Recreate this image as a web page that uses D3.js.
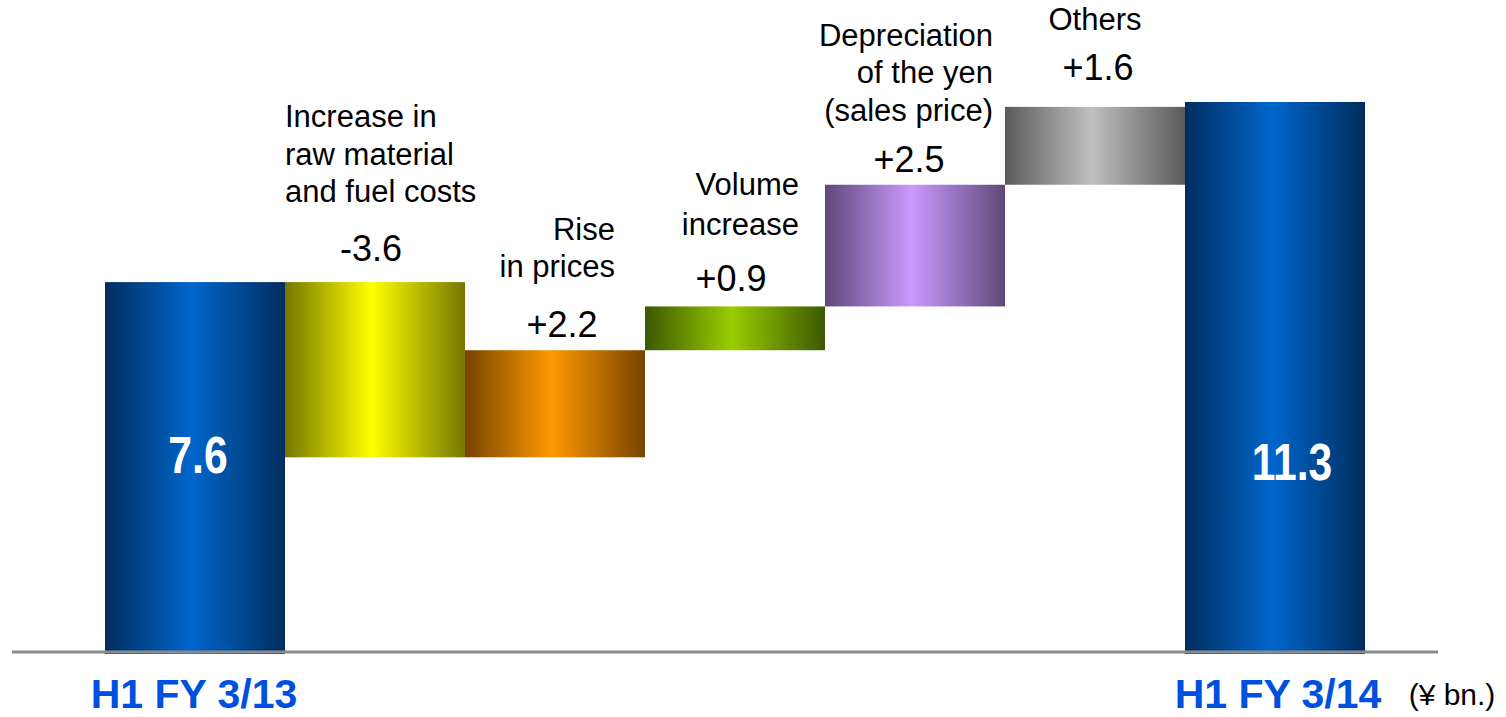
<!DOCTYPE html>
<html>
<head>
<meta charset="utf-8">
<script src="https://cdn.jsdelivr.net/npm/d3@7"></script>
<style>
  html, body { margin: 0; padding: 0; background: #fff; }
  svg { display: block; font-family: "Liberation Sans", Arial, sans-serif; }
</style>
</head>
<body>
<svg id="chart" width="1506" height="717"></svg>
<script>
// Operating income bridge, H1 FY 3/13 -> H1 FY 3/14 (¥ bn.)
const categories = ["start", "raw", "prices", "volume", "yen", "others", "end"];
const values = [7.6, -3.6, 2.2, 0.9, 2.5, 1.6, 11.3];
const kinds = ["total", "delta", "delta", "delta", "delta", "delta", "total"];
const valueLabels = ["7.6", "-3.6", "+2.2", "+0.9", "+2.5", "+1.6", "11.3"];
const captions = [
  [],
  ["Increase in", "raw material", "and fuel costs"],
  ["Rise", "in prices"],
  ["Volume", "increase"],
  ["Depreciation", "of the yen", "(sales price)"],
  ["Others"],
  []
];
const axisLabels = ["H1 FY 3/13", "", "", "", "", "", "H1 FY 3/14"];
const unitLabel = "(¥ bn.)";
// gradient colours: [edge, centre]
const colors = [
  ["#002d5e", "#0066cc"],
  ["#767600", "#ffff00"],
  ["#764300", "#ff9900"],
  ["#3d5800", "#99cc00"],
  ["#5e4878", "#cc99ff"],
  ["#5a5a5a", "#c0c0c0"],
  ["#002d5e", "#0066cc"]
];

// label layout tweaks (pixels)
const captionAlign = ["middle", "start", "end", "end", "end", "middle", "middle"];
const captionInset = [0, 0, 30, 26, 12, 0, 0];
const captionGap = [0, 59, 60, 56, 51, 50, 0];
const captionLine = [0, 37.5, 37.5, 40, 37.5, 37.5, 0];
const valueDx = [0, -4, 7, -4, -6, 3, 0];
const valueLift = [0, 21, 13, 15, 13, 27, 0];
const totalDx = [3, 0, 0, 0, 0, 0, 17];
const totalBase = [473, 0, 0, 0, 0, 0, 480];
const axisDx = [-1, 0, 0, 0, 0, 0, 3];

// running totals for the floating segments
let run = 0;
const bars = categories.map((c, i) => {
  let y0, y1;
  if (kinds[i] === "total") { y0 = 0; y1 = values[i]; run = values[i]; }
  else { y0 = run; y1 = run + values[i]; run = y1; }
  return { c, i, lo: Math.min(y0, y1), hi: Math.max(y0, y1), end: y1 };
});

const svg = d3.select("#chart");
const x = d3.scaleBand().domain(categories).range([105, 1365]).padding(0);
const y = d3.scaleLinear().domain([0, 11.3]).range([652, 102]);
const cx = d => x(d.c) + x.bandwidth() / 2;

const defs = svg.append("defs");
colors.forEach((col, i) => {
  const g = defs.append("linearGradient").attr("id", "grad" + i)
    .attr("x1", "0%").attr("x2", "100%").attr("y1", "0%").attr("y2", "0%");
  g.append("stop").attr("offset", "0%").attr("stop-color", col[0]);
  g.append("stop").attr("offset", "48%").attr("stop-color", col[1]);
  g.append("stop").attr("offset", "100%").attr("stop-color", col[0]);
});

svg.append("g").selectAll("rect").data(bars).join("rect")
  .attr("x", d => x(d.c))
  .attr("width", x.bandwidth())
  .attr("y", d => y(d.hi))
  .attr("height", d => y(d.lo) - y(d.hi) + (kinds[d.i] === "total" ? 2 : 0))
  .attr("fill", d => `url(#grad${d.i})`);

// baseline
svg.append("line")
  .attr("x1", 12).attr("x2", 1438)
  .attr("y1", y(0)).attr("y2", y(0))
  .attr("stroke", "#8c8c8c").attr("stroke-width", 3);

// values inside total bars (condensed bold figures)
svg.append("g").selectAll("text").data(bars.filter(d => kinds[d.i] === "total")).join("text")
  .attr("transform", d => `translate(${cx(d) + totalDx[d.i]},${totalBase[d.i]}) scale(0.82,1)`)
  .attr("text-anchor", "middle")
  .attr("fill", "#fff")
  .attr("font-size", 52)
  .attr("font-weight", "bold")
  .text(d => valueLabels[d.i]);

// values above floating bars
const deltas = bars.filter(d => kinds[d.i] === "delta");
const valueY = d => (d.i === 5 ? y(11.3) + 5 : y(d.hi)) - valueLift[d.i];
svg.append("g").selectAll("text").data(deltas).join("text")
  .attr("x", d => cx(d) + valueDx[d.i])
  .attr("y", valueY)
  .attr("text-anchor", "middle")
  .attr("fill", "#000")
  .attr("font-size", 36)
  .text(d => valueLabels[d.i]);

// captions above the values
const capX = d => {
  const a = captionAlign[d.i];
  if (a === "start") return x(d.c);
  if (a === "end") return x(d.c) + x.bandwidth() - captionInset[d.i];
  return cx(d);
};
const capG = svg.append("g").selectAll("text").data(deltas).join("text")
  .attr("text-anchor", d => captionAlign[d.i])
  .attr("font-size", 31)
  .attr("fill", "#000");
capG.each(function (d) {
  const lines = captions[d.i];
  const last = valueY(d) - captionGap[d.i];
  d3.select(this).selectAll("tspan").data(lines).join("tspan")
    .attr("x", capX(d))
    .attr("y", (t, k) => last - (lines.length - 1 - k) * captionLine[d.i])
    .text(t => t);
});

// period labels under the axis
svg.append("g").selectAll("text").data(bars.filter(d => axisLabels[d.i])).join("text")
  .attr("x", d => cx(d) + axisDx[d.i])
  .attr("y", 708)
  .attr("text-anchor", "middle")
  .attr("font-size", 41)
  .attr("font-weight", "bold")
  .attr("fill", "#0050e0")
  .text(d => axisLabels[d.i]);

svg.append("text")
  .attr("x", 1452).attr("y", 705)
  .attr("text-anchor", "middle")
  .attr("font-size", 30)
  .attr("fill", "#000")
  .text(unitLabel);
</script>
</body>
</html>
